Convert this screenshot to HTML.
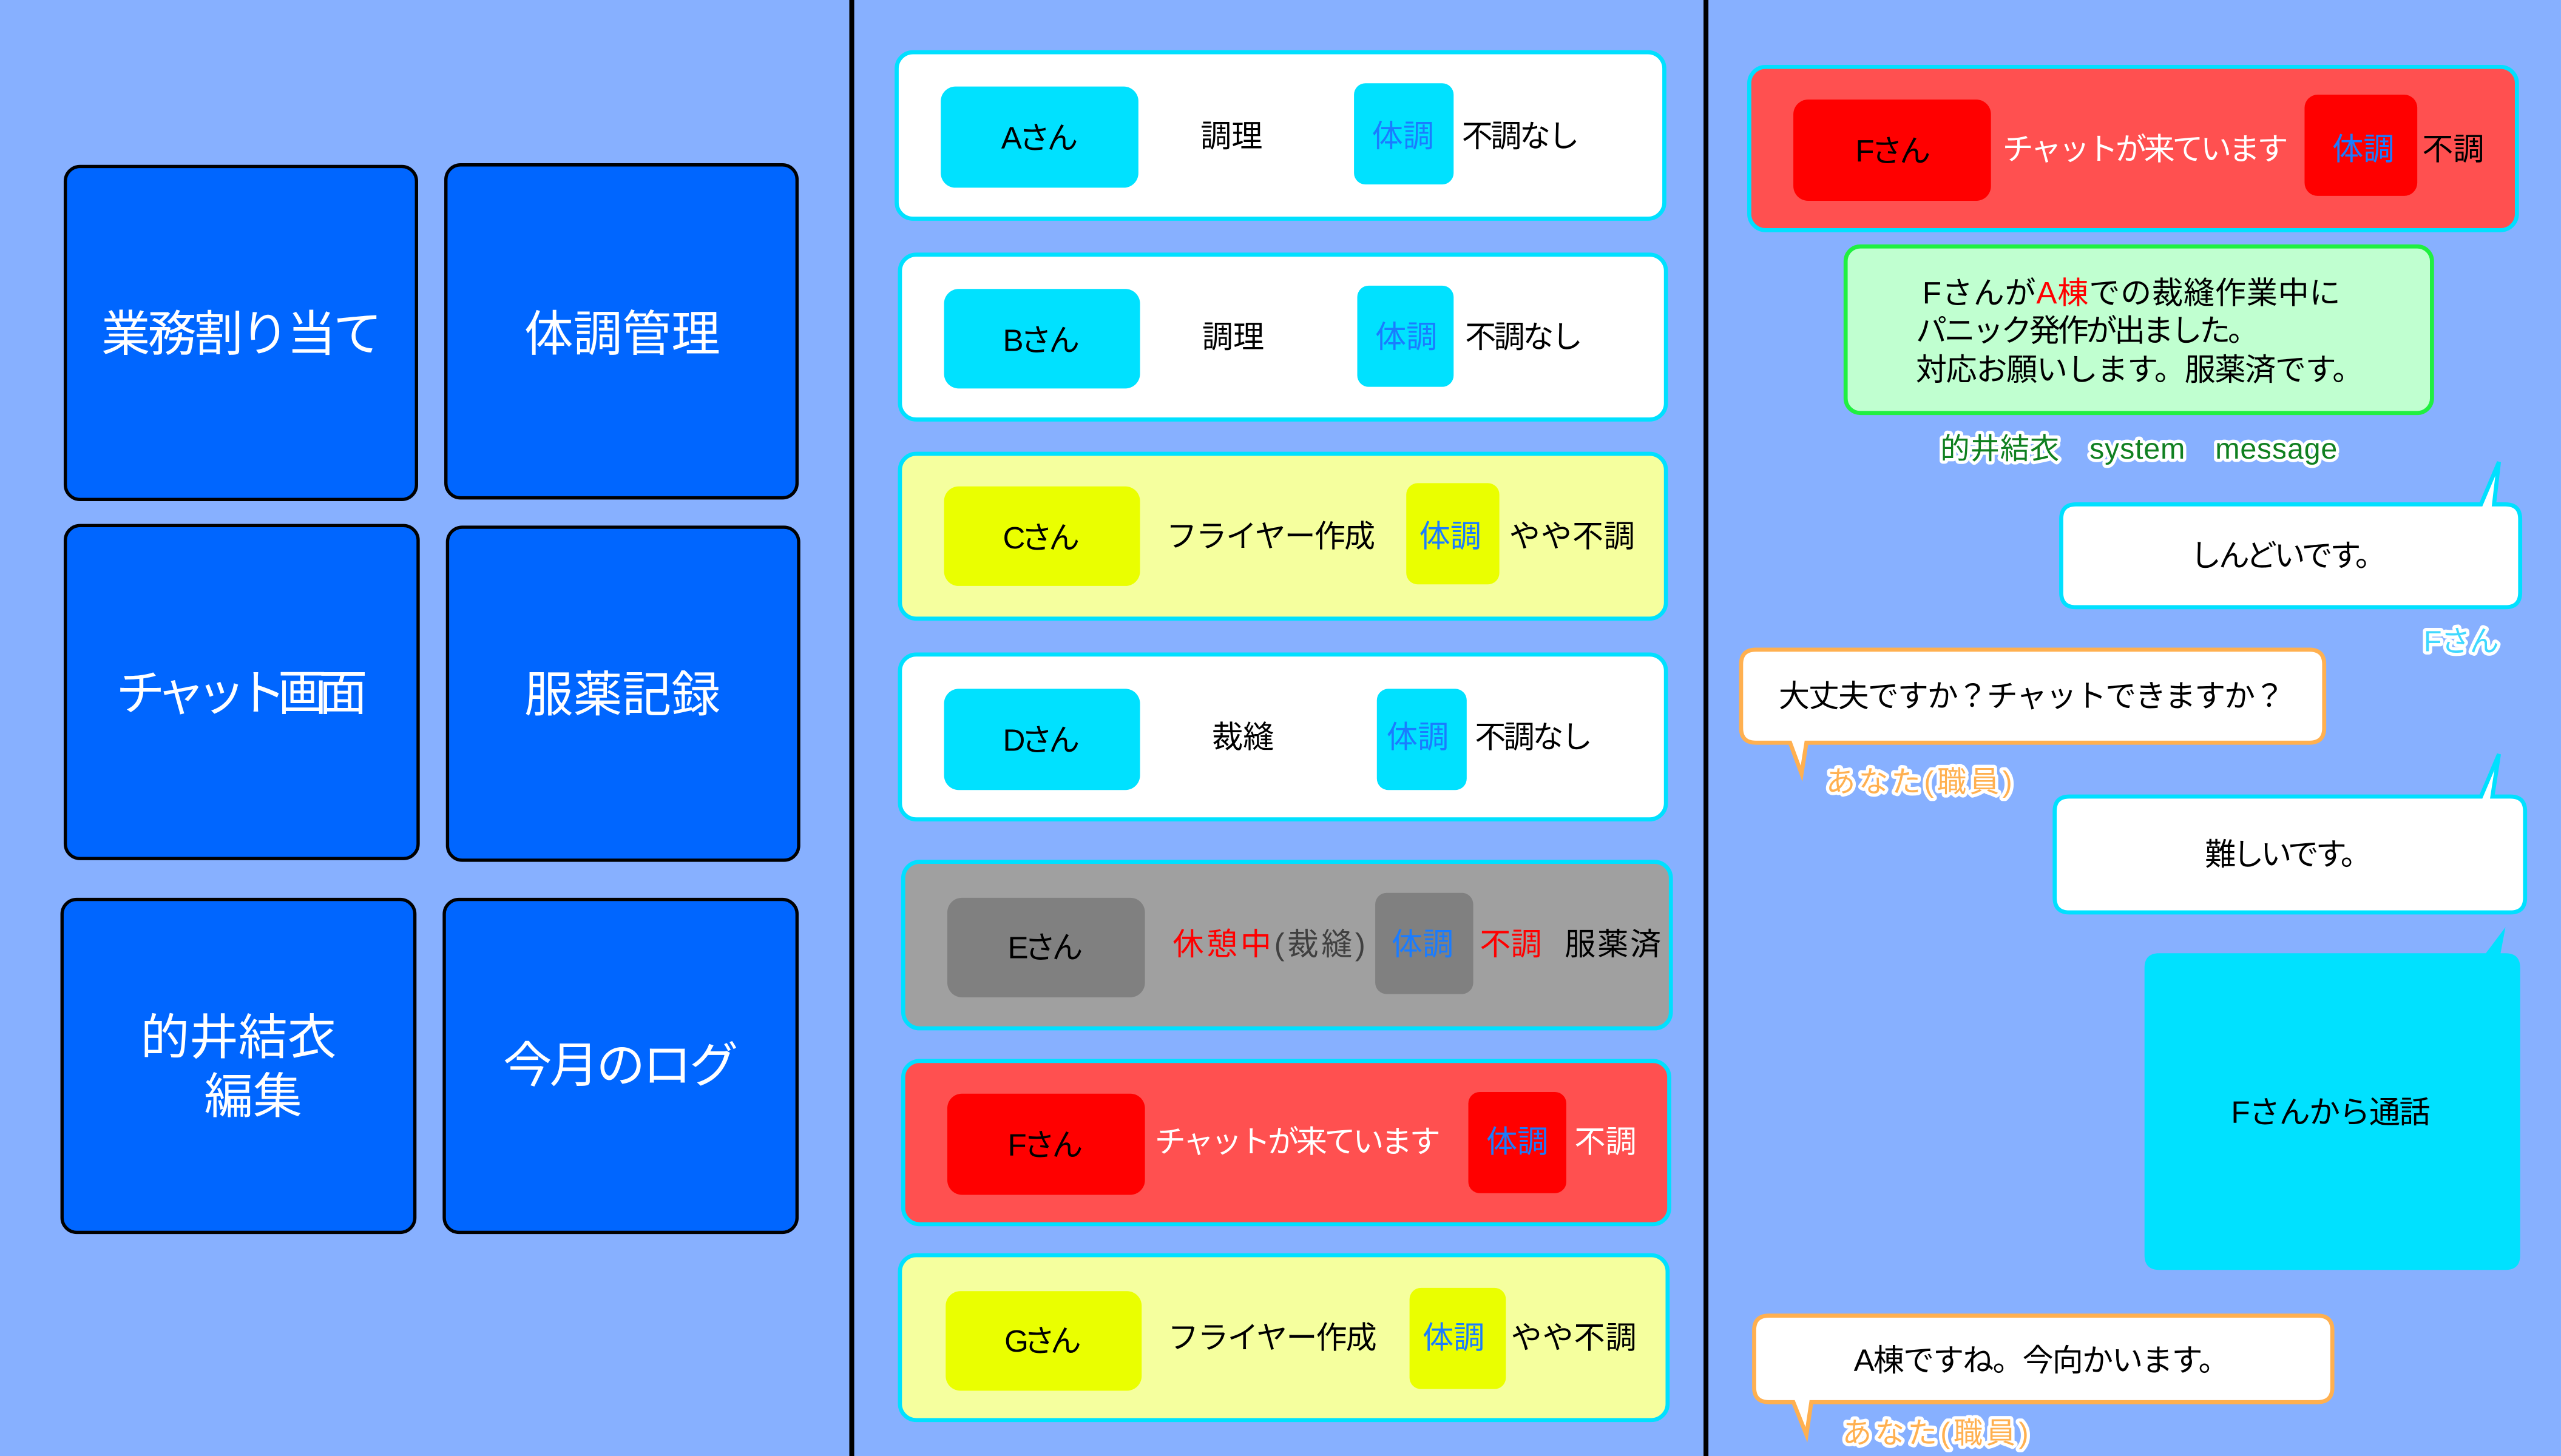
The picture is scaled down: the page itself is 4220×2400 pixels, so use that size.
<!DOCTYPE html>
<html><head><meta charset="utf-8"><style>
html,body{margin:0;padding:0;background:#87b0ff;}
svg{display:block}
text{font-family:"Liberation Sans","Noto Sans CJK JP",sans-serif;}
.t{font-size:30px;fill:#fff;text-anchor:middle}
.m{font-size:19px;fill:#000}
.b{fill:#1a7cff}
.lab{font-size:18px;paint-order:stroke;stroke:#fff;stroke-width:4px;stroke-linejoin:round}
</style></head><body>
<svg width="4220" height="2400" viewBox="0 0 1568 892" preserveAspectRatio="none" xmlns="http://www.w3.org/2000/svg">
<rect width="1568" height="892" fill="#87b0ff"/>
<rect x="520" y="0" width="3" height="892" fill="#000"/>
<rect x="1043" y="0" width="3" height="892" fill="#000"/>

<g fill="#0066ff" stroke="#000" stroke-width="2">
<rect x="40" y="102" width="215" height="204" rx="9"/>
<rect x="273" y="101" width="215" height="204" rx="9"/>
<rect x="40" y="322" width="216" height="204" rx="9"/>
<rect x="274" y="323" width="215" height="204" rx="9"/>
<rect x="38" y="551" width="216" height="204" rx="9"/>
<rect x="272" y="551" width="216" height="204" rx="9"/>
</g>
<text class="t" x="148" y="215" textLength="172">業務割り当て</text>
<text class="t" x="381" y="215" textLength="120">体調管理</text>
<text class="t" x="148" y="435" textLength="154">チャット画面</text>
<text class="t" x="381" y="436" textLength="120">服薬記録</text>
<text class="t" x="146" y="646" textLength="120">的井結衣</text>
<text class="t" x="155" y="682" textLength="60">編集</text>
<text class="t" x="380" y="663" textLength="144">今月のログ</text>

<g stroke="#00e0ff" stroke-width="2.5">
<rect x="549" y="32" width="470" height="102" rx="10" fill="#fff"/>
<rect x="551" y="156" width="469" height="101" rx="10" fill="#fff"/>
<rect x="551" y="278" width="469" height="101" rx="10" fill="#f5ff9e"/>
<rect x="551" y="401" width="469" height="101" rx="10" fill="#fff"/>
<rect x="553" y="528" width="470" height="102" rx="10" fill="#a0a0a0"/>
<rect x="553" y="650" width="469" height="100" rx="10" fill="#ff5050"/>
<rect x="551" y="769" width="470" height="101" rx="10" fill="#f5ff9e"/>
</g>
<g>
<rect x="576" y="53" width="121" height="62" rx="9" fill="#00e1ff"/>
<rect x="829" y="51" width="61" height="62" rx="7" fill="#00e1ff"/>
<rect x="578" y="177" width="120" height="61" rx="9" fill="#00e1ff"/>
<rect x="831" y="175" width="59" height="62" rx="7" fill="#00e1ff"/>
<rect x="578" y="298" width="120" height="61" rx="9" fill="#eaff00"/>
<rect x="861" y="296" width="57" height="62" rx="7" fill="#eaff00"/>
<rect x="578" y="422" width="120" height="62" rx="9" fill="#00e1ff"/>
<rect x="843" y="422" width="55" height="62" rx="7" fill="#00e1ff"/>
<rect x="580" y="550" width="121" height="61" rx="9" fill="#808080"/>
<rect x="842" y="547" width="60" height="62" rx="7" fill="#808080"/>
<rect x="580" y="670" width="121" height="62" rx="9" fill="#ff0000"/>
<rect x="899" y="669" width="60" height="62" rx="7" fill="#ff0000"/>
<rect x="579" y="791" width="120" height="61" rx="9" fill="#eaff00"/>
<rect x="863" y="789" width="59" height="62" rx="7" fill="#eaff00"/>
</g>
<text class="m" x="613" y="91" textLength="47">Aさん</text>
<text class="m" x="735" y="90" textLength="38">調理</text>
<text class="m b" x="840" y="90" textLength="38">体調</text>
<text class="m" x="895" y="90" textLength="72">不調なし</text>

<text class="m" x="614" y="215" textLength="47">Bさん</text>
<text class="m" x="736" y="213" textLength="38">調理</text>
<text class="m b" x="842" y="213" textLength="38">体調</text>
<text class="m" x="897" y="213" textLength="72">不調なし</text>

<text class="m" x="614" y="336" textLength="47">Cさん</text>
<text class="m" x="714" y="335" textLength="128">フライヤー作成</text>
<text class="m b" x="869" y="335" textLength="38">体調</text>
<text class="m" x="924" y="335" textLength="77">やや不調</text>

<text class="m" x="614" y="460" textLength="47">Dさん</text>
<text class="m" x="742" y="458" textLength="38">裁縫</text>
<text class="m b" x="849" y="458" textLength="38">体調</text>
<text class="m" x="903" y="458" textLength="72">不調なし</text>

<text class="m" x="617" y="587" textLength="46">Eさん</text>
<text class="m" x="718" y="585" textLength="118"><tspan style="fill:#ff0000">休憩中</tspan><tspan style="fill:#404040">(裁縫)</tspan></text>
<text class="m b" x="852" y="585" textLength="38">体調</text>
<text class="m" x="906" y="585" textLength="38" style="fill:#ff0000">不調</text>
<text class="m" x="958" y="585" textLength="59">服薬済</text>

<text class="m" x="617" y="708" textLength="46">Fさん</text>
<text class="m" x="707" y="706" textLength="175" style="fill:#fff">チャットが来ています</text>
<text class="m b" x="910" y="706" textLength="38">体調</text>
<text class="m" x="964" y="706" textLength="38" style="fill:#fff">不調</text>

<text class="m" x="615" y="828" textLength="47">Gさん</text>
<text class="m" x="715" y="826" textLength="128">フライヤー作成</text>
<text class="m b" x="871" y="826" textLength="38">体調</text>
<text class="m" x="925" y="826" textLength="77">やや不調</text>

<rect x="1071" y="41" width="470" height="100" rx="10" fill="#ff5050" stroke="#00e0ff" stroke-width="2.5"/>
<rect x="1098" y="61" width="121" height="62" rx="9" fill="#ff0000"/>
<rect x="1411" y="58" width="69" height="62" rx="8" fill="#ff0000"/>
<text class="m" x="1136" y="99" textLength="46">Fさん</text>
<text class="m" x="1226" y="98" textLength="175" style="fill:#fff">チャットが来ています</text>
<text class="m b" x="1428" y="98" textLength="38">体調</text>
<text class="m" x="1483" y="98" textLength="38">不調</text>

<rect x="1130" y="151" width="359" height="102" rx="9" fill="#c0ffd0" stroke="#20f040" stroke-width="2.5"/>
<text class="m" x="1177" y="186" textLength="256">Fさんが<tspan style="fill:#ff0000">A棟</tspan>での裁縫作業中に</text>
<text class="m" x="1173" y="209" textLength="210">パニック発作が出ました。</text>
<text class="m" x="1173" y="233" textLength="274">対応お願いします。服薬済です。</text>
<text class="lab" x="1188" y="281" fill="#108020" textLength="243">的井結衣　system　message</text>

<path d="M1262 318 Q1262 309 1271 309 L1519 309 L1530 283 L1527 309 L1534 309 Q1543 309 1543 318 L1543 363 Q1543 372 1534 372 L1271 372 Q1262 372 1262 363 Z" fill="#fff" stroke="#00e0ff" stroke-width="2.5"/>
<text class="m" x="1341" y="347" textLength="120">しんどいです。</text>
<text class="lab" x="1484" y="399" fill="#40d8ff" textLength="46">Fさん</text>

<path d="M1075 398 L1414 398 Q1423 398 1423 407 L1423 446 Q1423 455 1414 455 L1106 455 L1103 474 L1096 455 L1075 455 Q1066 455 1066 446 L1066 407 Q1066 398 1075 398 Z" fill="#fff" stroke="#ffb050" stroke-width="2.5"/>
<text class="m" x="1089" y="433" textLength="310">大丈夫ですか？チャットできますか？</text>
<text class="lab" x="1118" y="485" fill="#ffb050" textLength="114">あなた(職員)</text>

<path d="M1258 497 Q1258 488 1267 488 L1519 488 L1530 462 L1526 488 L1537 488 Q1546 488 1546 497 L1546 550 Q1546 559 1537 559 L1267 559 Q1258 559 1258 550 Z" fill="#fff" stroke="#00e0ff" stroke-width="2.5"/>
<text class="m" x="1350" y="530" textLength="102">難しいです。</text>

<path d="M1322 584 L1522 584 L1534 568 L1531 584 L1534 584 Q1543 584 1543 593 L1543 769 Q1543 778 1534 778 L1322 778 Q1313 778 1313 769 L1313 593 Q1313 584 1322 584 Z" fill="#00e1ff"/>
<text class="m" x="1366" y="688" textLength="122">Fさんから通話</text>

<path d="M1083 806 L1419 806 Q1428 806 1428 815 L1428 850 Q1428 859 1419 859 L1109 859 L1106 879 L1098 859 L1083 859 Q1074 859 1074 850 L1074 815 Q1074 806 1083 806 Z" fill="#fff" stroke="#ffb050" stroke-width="2.5"/>
<text class="m" x="1135" y="840" textLength="230">A棟ですね。今向かいます。</text>
<text class="lab" x="1128" y="884" fill="#ffb050" textLength="114">あなた(職員)</text>
</svg>
</body></html>
